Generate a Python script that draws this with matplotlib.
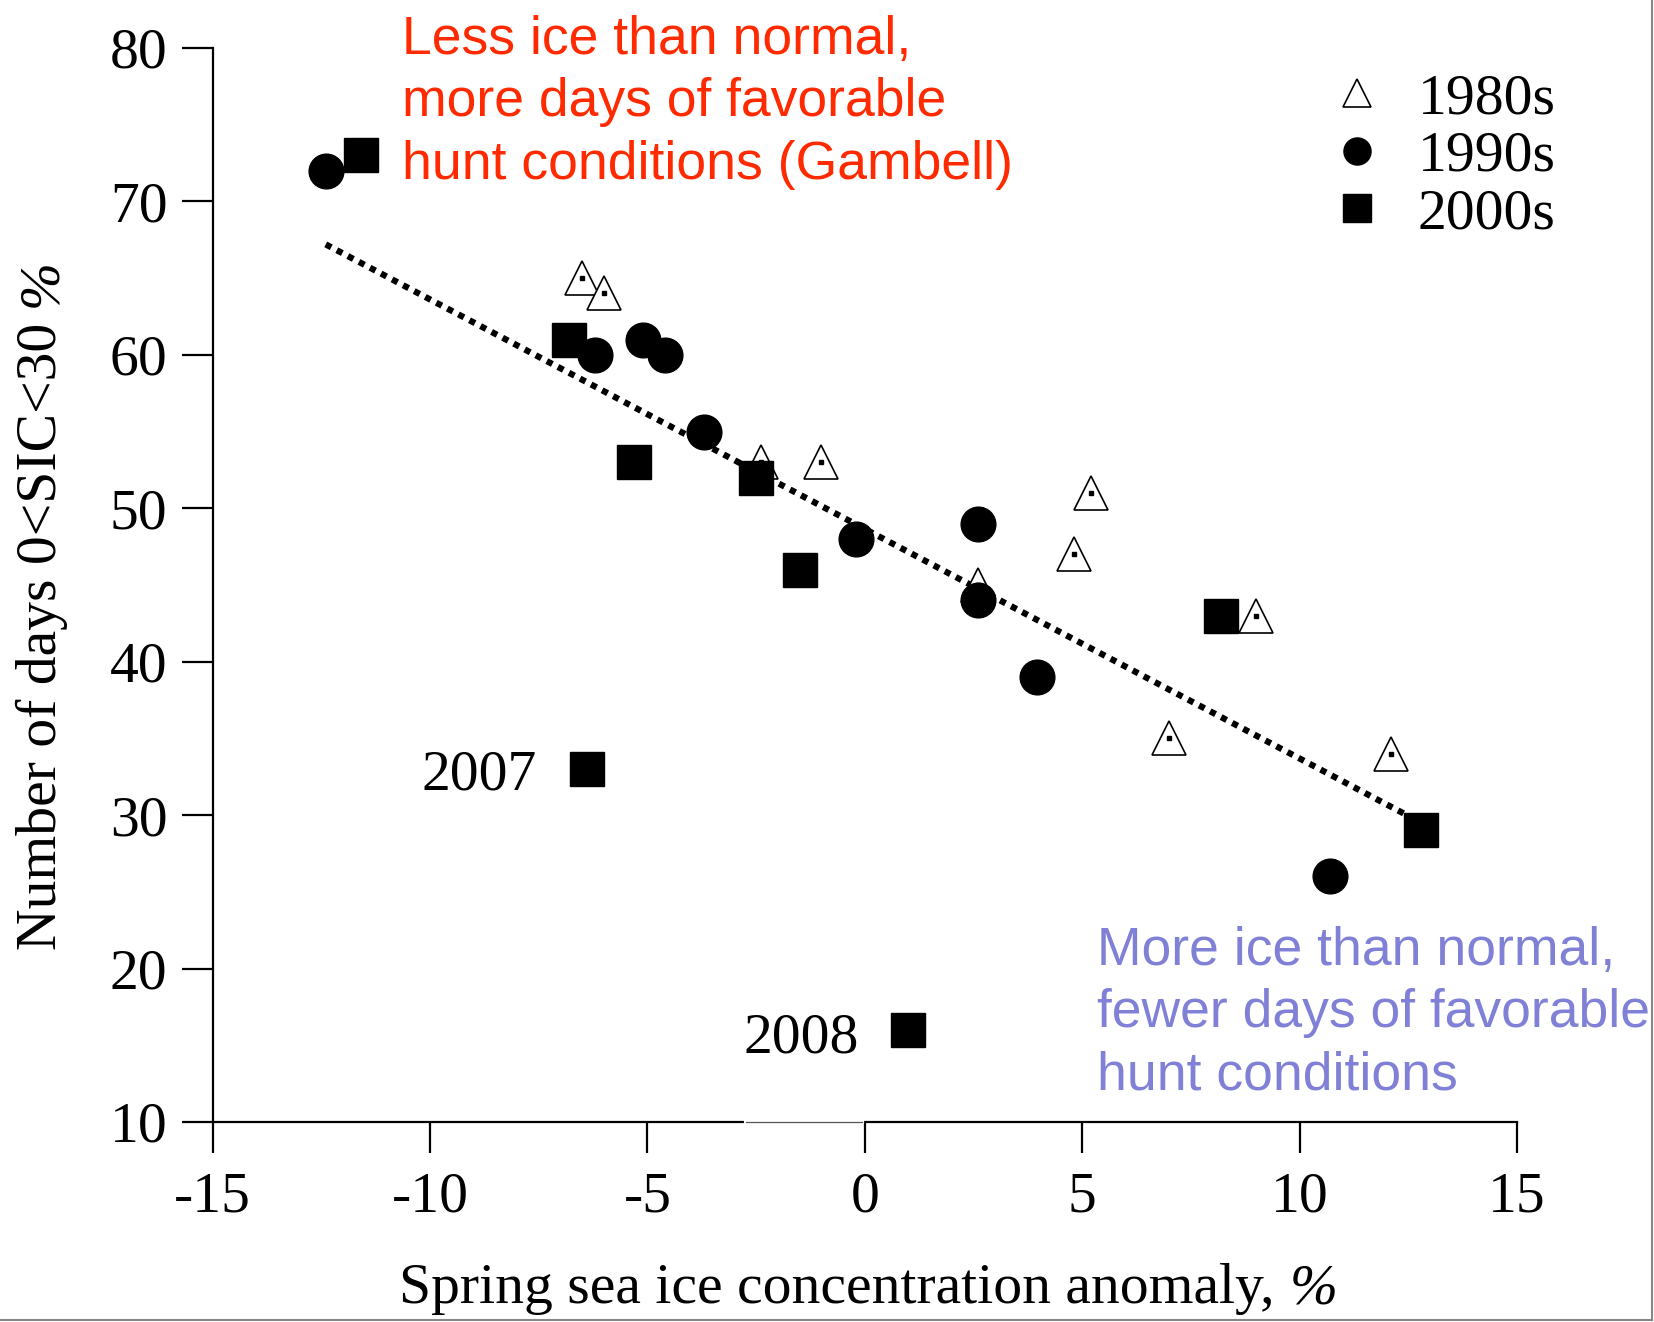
import matplotlib
matplotlib.use("Agg")
import matplotlib.pyplot as plt
from matplotlib.lines import Line2D

# values
x_1980s = [-6.5, -6.0, -2.4, -1.0, 5.2, 4.8, 2.6, 9.0, 7.0, 12.1]
y_1980s = [65, 64, 53, 53, 51, 47, 45, 43, 35, 34]
x_1990s = [-12.4, -6.2, -5.1, -4.6, -3.7, -0.2, 2.6, 2.6, 3.95, 10.7]
y_1990s = [72, 60, 61, 60, 55, 48, 49, 44, 39, 26]
x_2000s = [-11.6, -6.8, -5.3, -2.5, -1.5, 8.2, 12.8, -6.4, 1.0]
y_2000s = [73, 61, 53, 52, 46, 43, 29, 33, 16]
trend_x = [-12.4, 12.8]
trend_y = [67.2, 29.5]
labelled_years = ["2007", "2008"]
labelled_pos = [(-7.55, 31.7), (-0.13, 14.5)]

plt.rcParams["font.family"] = "Liberation Serif"
plt.rcParams["axes.unicode_minus"] = False

FS = 41.5

fig = plt.figure(figsize=(16.54, 13.22), dpi=100)
ax = fig.add_axes([0.1286, 0.1513, 0.7886, 0.8124])

ax.plot(trend_x, trend_y, color="black", lw=4.5, linestyle=(0, (1, 1)),
        dash_capstyle="butt", zorder=1)

ms = 25
ax.plot(x_1980s, y_1980s, "^", ms=ms, mfc="white", mec="black", mew=1.2, zorder=2)
ax.plot(x_1980s, y_1980s, "s", ms=2.2, color="black", zorder=2)
ax.plot(x_1990s, y_1990s, "o", ms=ms, color="black", zorder=3)
ax.plot(x_2000s, y_2000s, "s", ms=ms, color="black", zorder=3)

for lab, (px, py) in zip(labelled_years, labelled_pos):
    ax.text(px, py, lab, fontsize=FS, ha="right", va="baseline")

ax.set_xlim(-15, 15)
ax.set_ylim(10, 80)
ax.set_xticks(range(-15, 16, 5))
ax.set_yticks(range(10, 81, 10))
ax.spines["top"].set_visible(False)
ax.spines["right"].set_visible(False)
for s in ["left", "bottom"]:
    ax.spines[s].set_linewidth(1.6)
ax.tick_params(direction="out", length=22, width=1.6, labelsize=FS)
ax.tick_params(axis="x", pad=14)
ax.tick_params(axis="y", pad=10.5)

# faint gap in the bottom axis line
ax.plot([-2.73, -0.06], [10, 10], color="white", lw=3, clip_on=False, zorder=4)
ax.plot([-2.73, -0.06], [10, 10], color="#555555", lw=0.9, clip_on=False, zorder=5)

# axis titles, the % sign is set in italics
renderer = fig.canvas.get_renderer()
gap = 11 * 100 / 72  # space before the %, in pixels

xl = fig.text(399 / 1654, 1 - 1303 / 1322, "Spring sea ice concentration anomaly,",
              fontsize=FS, ha="left", va="baseline")
xbb = xl.get_window_extent(renderer)
fig.text(xbb.x1 + gap, 1322 - 1303, "%", fontsize=FS, style="italic",
         ha="left", va="baseline", transform=None)

yl = fig.text(42 / 1654, 1 - 636 / 1322, "Number of days 0<SIC<30", fontsize=FS,
              ha="center", va="center", rotation=90)
ybb = yl.get_window_extent(renderer)
fig.text(ybb.x1, ybb.y1 + gap, "%", fontsize=FS, style="italic",
         ha="right", va="bottom", rotation=90, transform=None)

fig.text(402 / 1654, 1 - 178.5 / 1322,
         "Less ice than normal,\nmore days of favorable\nhunt conditions (Gambell)",
         family="Liberation Sans", fontsize=38.5, color="#ff2a00", ha="left", va="baseline",
         linespacing=1.31)
fig.text(1097 / 1654, 1 - 1089 / 1322,
         "More ice than normal,\nfewer days of favorable\nhunt conditions",
         family="Liberation Sans", fontsize=38.5, color="#7f80d6", ha="left", va="baseline",
         linespacing=1.31)

handles = [
    Line2D([], [], ls="none", marker="^", ms=19.5, mfc="white", mec="black", mew=1.2),
    Line2D([], [], ls="none", marker="o", ms=19.5, color="black"),
    Line2D([], [], ls="none", marker="s", ms=19.5, color="black"),
]
ax.legend(handles, ["1980s", "1990s", "2000s"], loc="upper left",
          bbox_to_anchor=(1328 / 1654, 1 - 73 / 1322), bbox_transform=fig.transFigure,
          frameon=False, fontsize=FS, handlelength=1.0, handletextpad=0.56,
          labelspacing=0.09, borderpad=0, borderaxespad=0)

# grey frame on the right and bottom edges
fig.add_artist(Line2D([0.999, 0.999], [0.0015, 1], color="#888888", lw=1.5))
fig.add_artist(Line2D([0, 0.999], [0.0015, 0.0015], color="#888888", lw=1.5))

fig.savefig("out.png", dpi=100)
